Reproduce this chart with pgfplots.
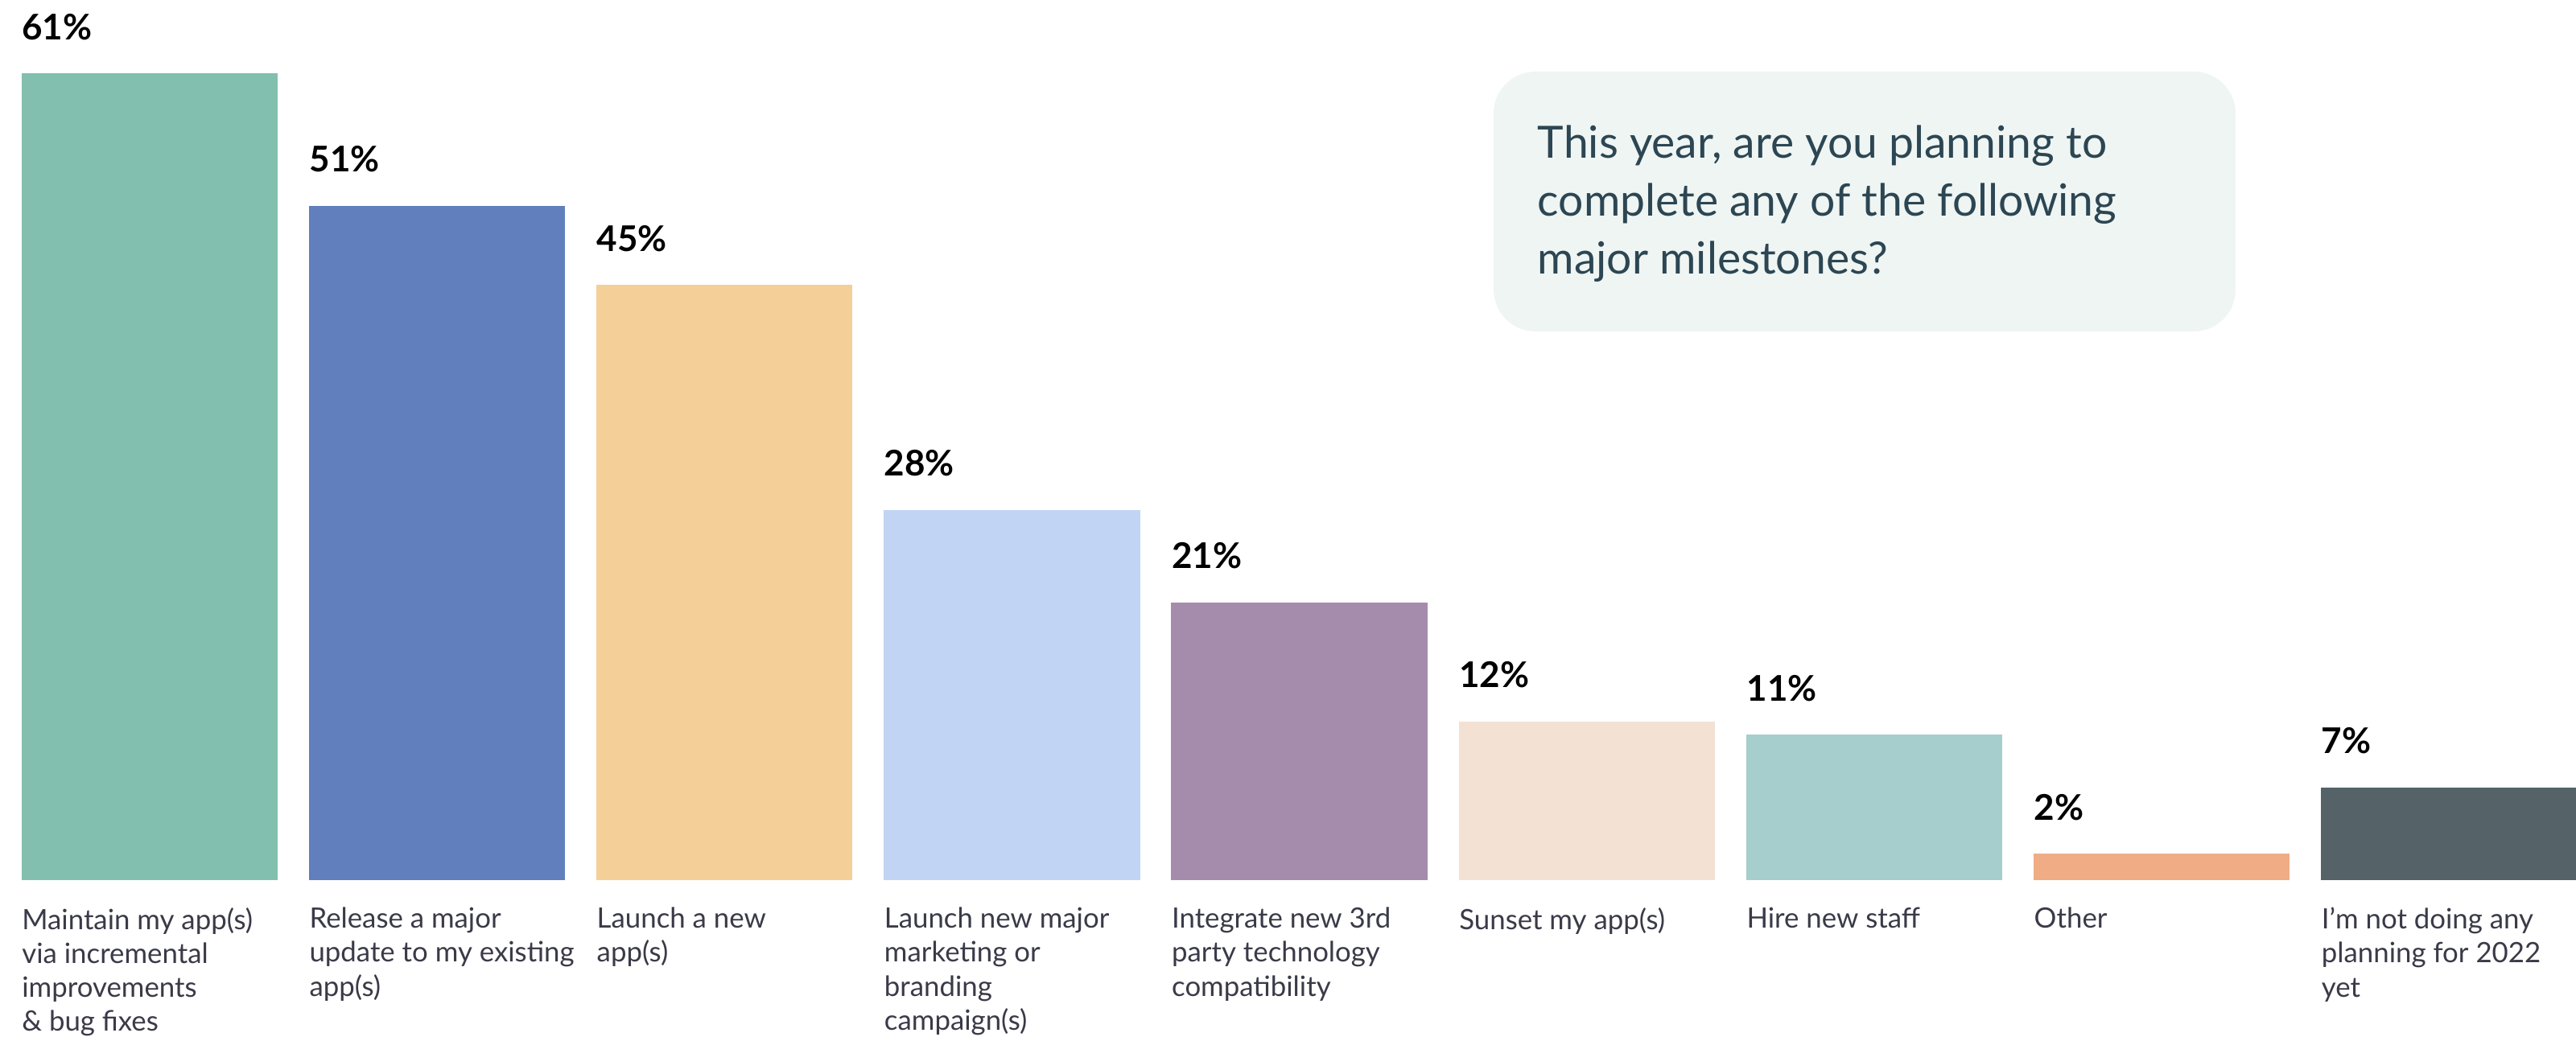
\documentclass[border=0pt]{standalone}
\usepackage{pgfplots}
\pgfplotsset{compat=1.18}
\usepackage{fontspec}
\setmainfont{Lato}
\definecolor{c1}{HTML}{82BFAF}
\definecolor{c2}{HTML}{617EBD}
\definecolor{c3}{HTML}{F5CF98}
\definecolor{c4}{HTML}{C2D4F4}
\definecolor{c5}{HTML}{A68CAC}
\definecolor{c6}{HTML}{F3E2D4}
\definecolor{c7}{HTML}{A5CECC}
\definecolor{c8}{HTML}{EFAC85}
\definecolor{c9}{HTML}{556369}
\definecolor{boxbg}{HTML}{EFF5F3}
\definecolor{qtext}{HTML}{2C4653}
\definecolor{labtext}{HTML}{3A3A48}
\begin{document}
\begin{tikzpicture}
\useasboundingbox (0,0) rectangle (800.25pt,322pt);
\fill[boxbg, rounded corners=13pt] (464pt,219pt) rectangle (694.5pt,299.75pt);
\begin{scope}[every node/.style={anchor=base west, inner sep=0pt, font=\fontsize{13.8}{18}\selectfont, text=qtext}]
\node at (477.5pt,272.75pt) {This year, are you planning to};
\node at (477.5pt,254.75pt) {complete any of the following};
\node at (477.5pt,236.75pt) {major milestones?};
\end{scope}
\begin{axis}[
  at={(0pt,48.5pt)}, anchor=south west,
  scale only axis, width=800.25pt, height=273.5pt,
  xmin=-0.52, xmax=8.4414, ymin=0, ymax=66.55,
  ybar, bar width=79.6pt, bar shift=0pt,
  axis line style={draw=none},
  ytick=\empty,
  xtick={0,...,8},
  xticklabels={
    {Maintain my app(s)\\via incremental\\improvements\\\& bug fixes},
    {Release a major\\update to my existing\\app(s)},
    {Launch a new\\app(s)},
    {Launch new major\\marketing or\\branding\\campaign(s)},
    {Integrate new 3rd\\party technology\\compatibility},
    {Sunset my app(s)},
    {Hire new staff},
    {Other},
    {I{\char"27}m not doing any\\planning for 2022\\yet}},
  major tick length=0pt,
  xticklabel style={anchor=north west, align=left, xshift=-39.8pt, yshift=-8.3pt,
    inner sep=0pt, font=\fontsize{8.7}{10.55}\selectfont, text=labtext},
  clip=false,
  /pgf/number format/assume math mode=true,
  nodes near coords={\pgfmathprintnumber{\pgfplotspointmeta}\%},
  every node near coord/.append style={anchor=base west, xshift=-39.8pt, yshift=10.5pt,
    inner sep=0pt, font=\fontsize{11}{13}\selectfont\bfseries, text=black},
]
\addplot[fill=c1, draw=none] coordinates {(0,61)};
\addplot[fill=c2, draw=none] coordinates {(1,51)};
\addplot[fill=c3, draw=none] coordinates {(2,45)};
\addplot[fill=c4, draw=none] coordinates {(3,28)};
\addplot[fill=c5, draw=none] coordinates {(4,21)};
\addplot[fill=c6, draw=none] coordinates {(5,12)};
\addplot[fill=c7, draw=none] coordinates {(6,11)};
\addplot[fill=c8, draw=none] coordinates {(7,2)};
\addplot[fill=c9, draw=none] coordinates {(8,7)};
\end{axis}
\end{tikzpicture}
\end{document}
